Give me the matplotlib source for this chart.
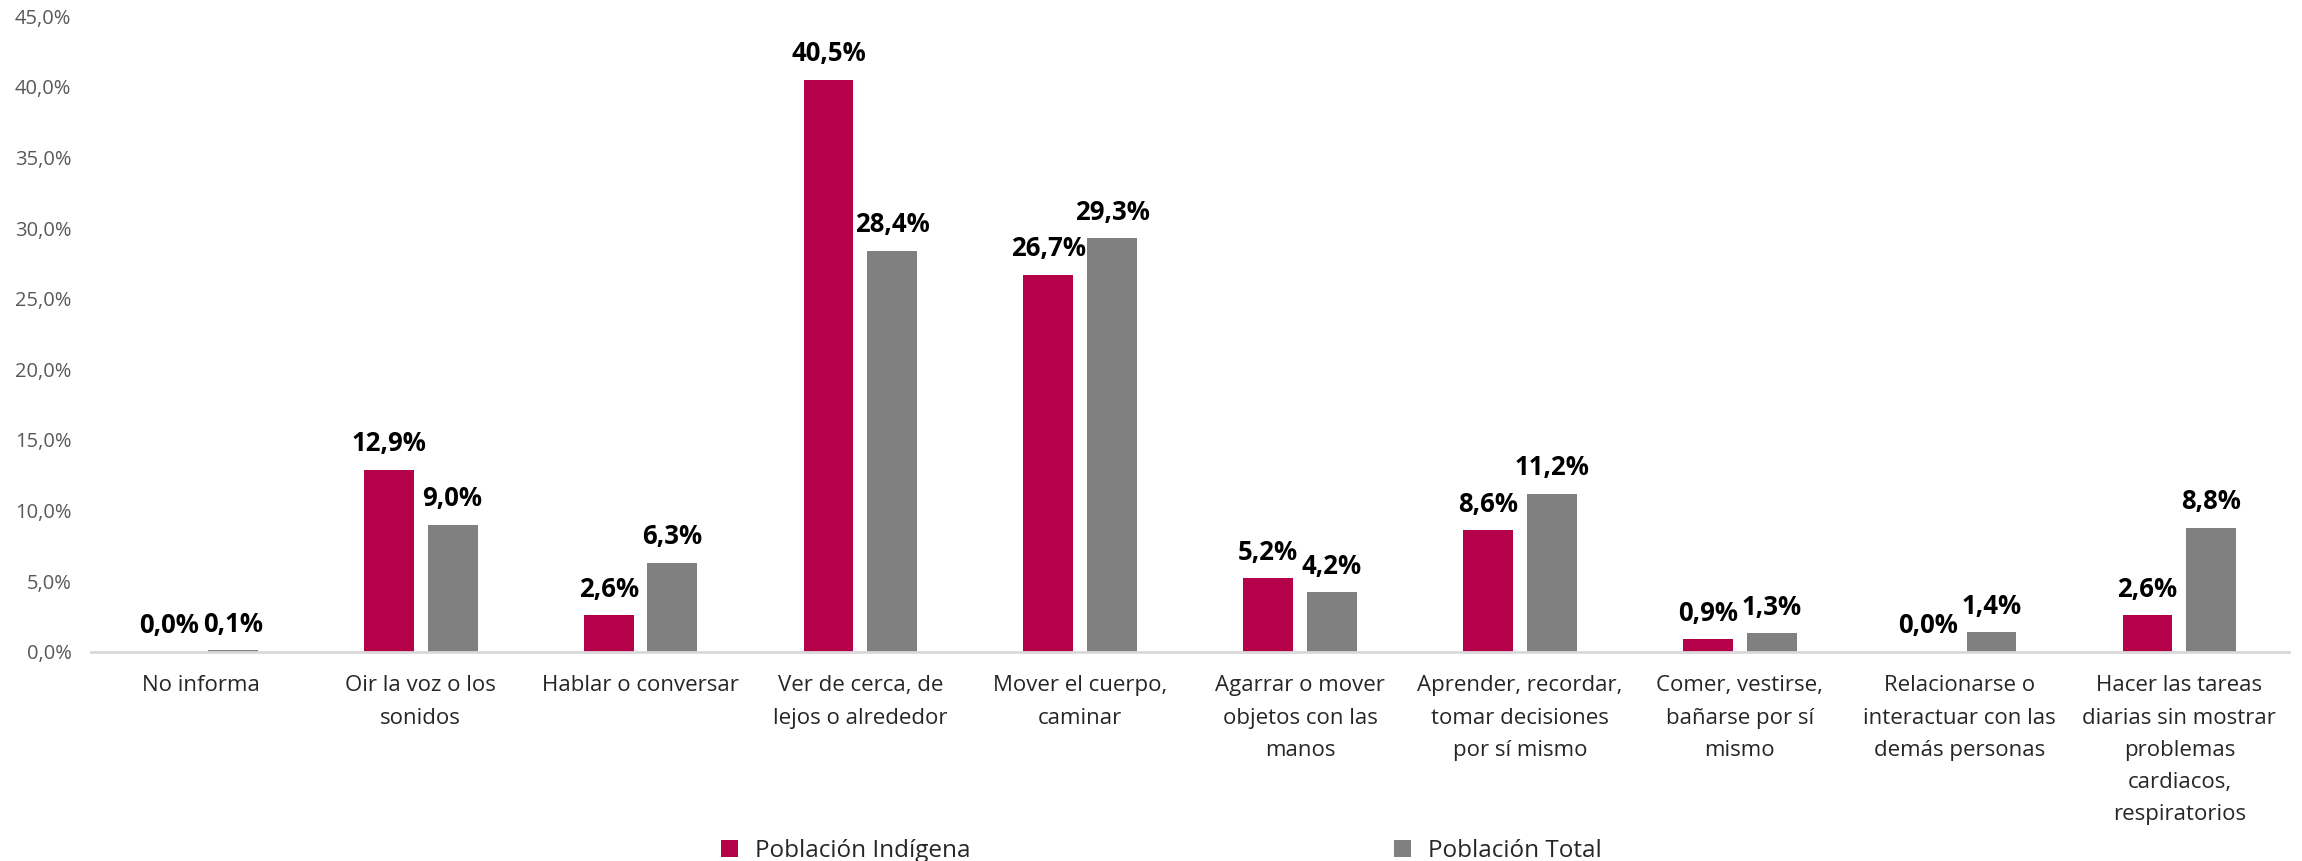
import matplotlib
matplotlib.use('Agg')
import matplotlib.pyplot as plt
import numpy as np

plt.rcParams['font.family'] = ['Open Sans', 'DejaVu Sans']

# Datos
categorias = ['No informa',
              'Oir la voz o los\nsonidos',
              'Hablar o conversar',
              'Ver de cerca, de\nlejos o alrededor',
              'Mover el cuerpo,\ncaminar',
              'Agarrar o mover\nobjetos con las\nmanos',
              'Aprender, recordar,\ntomar decisiones\npor sí mismo',
              'Comer, vestirse,\nbañarse por sí\nmismo',
              'Relacionarse o\ninteractuar con las\ndemás personas',
              'Hacer las tareas\ndiarias sin mostrar\nproblemas\ncardiacos,\nrespiratorios']
indigena = [0.0, 12.9, 2.6, 40.5, 26.7, 5.2, 8.6, 0.9, 0.0, 2.6]
total = [0.1, 9.0, 6.3, 28.4, 29.3, 4.2, 11.2, 1.3, 1.4, 8.8]
series = ['Población Indígena', 'Población Total']
colores = ['#B5004A', '#808080']

fig = plt.figure(figsize=(23.02, 8.61), dpi=100)
ax = fig.add_axes([0.0395, 0.243, 0.955, 0.738])

x = np.arange(len(categorias))
ancho = 0.227
sep = 0.145

b1 = ax.bar(x - sep, indigena, ancho, color=colores[0], label=series[0])
b2 = ax.bar(x + sep, total, ancho, color=colores[1], label=series[1])

def fmt(v):
    return f'{v:.1f}%'.replace('.', ',')

for barras, vals in [(b1, indigena), (b2, total)]:
    ax.bar_label(barras, labels=[fmt(v) for v in vals], padding=9,
                 fontsize=18.5, fontweight='bold', color='black')

ax.set_xlim(-0.5, len(categorias) - 0.5)
ax.set_ylim(0, 45)
ax.set_yticks(np.arange(0, 46, 5))
ax.set_yticklabels([fmt(v) for v in np.arange(0, 46, 5)], fontsize=14.5, color='#595959')
ax.set_xticks(x)
ax.set_xticklabels(categorias, fontsize=16, color='#262626', linespacing=1.7)
ax.tick_params(axis='x', length=0, pad=17)
ax.tick_params(axis='y', length=0, pad=14)

for s in ['top', 'right', 'left']:
    ax.spines[s].set_visible(False)
ax.spines['bottom'].set_color('#D9D9D9')
ax.spines['bottom'].set_linewidth(2)

fig.legend(loc='center', bbox_to_anchor=(0.5045, 0.012), ncol=2, frameon=False,
           fontsize=17.5, columnspacing=17.4, handlelength=0.7, handleheight=0.7,
           handletextpad=0.7, labelcolor='#262626', borderpad=0)

fig.savefig('out.png', dpi=100)
